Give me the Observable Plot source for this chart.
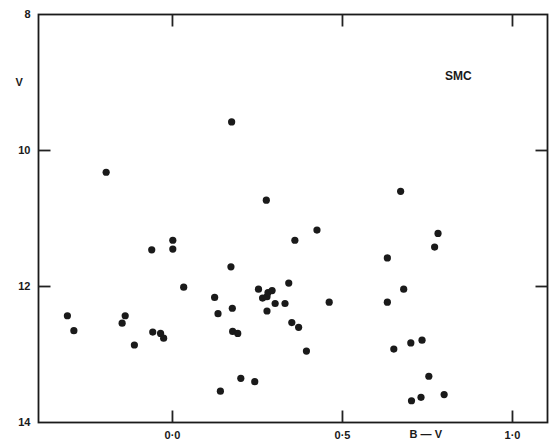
<!DOCTYPE html>
<html>
<head>
<meta charset="utf-8">
<script src="https://cdn.jsdelivr.net/npm/d3@7"></script>
<script src="https://cdn.jsdelivr.net/npm/@observablehq/plot@0.6"></script>
<style>
  html, body { margin: 0; padding: 0; background: #fff; }
  #chart { width: 560px; height: 448px; }
</style>
</head>
<body>
<div id="chart"></div>
<script>
// B-V colour index of each star
const bv = [
  0.174, -0.195, 0.276, 0.671,
  0.001, 0.001, -0.061, 0.172, 0.033, 0.124, 0.134, 0.176, 0.177, 0.192,
  0.253, 0.265, 0.278, 0.281, 0.293, 0.302, 0.278,
  -0.309, -0.290, -0.139, -0.148, -0.112, -0.058, -0.035, -0.026,
  0.201, 0.242, 0.141,
  0.425, 0.360, 0.781, 0.771, 0.632, 0.342, 0.680, 0.331, 0.461, 0.632,
  0.351, 0.371, 0.394, 0.701, 0.734, 0.651, 0.754, 0.703, 0.731, 0.799
];
// V magnitude of each star
const vmag = [
  9.58, 10.32, 10.73, 10.60,
  11.32, 11.45, 11.46, 11.71, 12.01, 12.16, 12.40, 12.32, 12.66, 12.69,
  12.04, 12.17, 12.15, 12.09, 12.06, 12.25, 12.36,
  12.43, 12.65, 12.43, 12.54, 12.86, 12.67, 12.69, 12.76,
  13.35, 13.40, 13.54,
  11.17, 11.32, 11.22, 11.42, 11.58, 11.95, 12.04, 12.25, 12.23, 12.23,
  12.53, 12.60, 12.95, 12.83, 12.79, 12.92, 13.32, 13.68, 13.63, 13.59
];
const xTicks = [0, 0.5, 1.0];
const xTickLabels = ["0·0", "0·5", "1·0"];
const yTicks = [8, 10, 12, 14];
const yInnerTicks = [10, 12];
const xDomain = [-0.394, 1.103];
const yDomain = [8, 14];
const xTitle = "B — V";
const xTitlePos = 0.745;
const yTitle = "V";
const yTitlePos = 9.0;
const panelLabel = "SMC";
const panelLabelPos = {x: 0.841, y: 8.91};

const stars = bv.map((b, i) => ({bv: b, v: vmag[i]}));

const W = 560, H = 448;
const mL = 38, mR = 13, mT = 14, mB = 26;
const fw = W - mL - mR, fh = H - mT - mB;
const tl = 12; // tick length in px
const ink = "#1a1a1a";
const font = "Liberation Sans, Arial, sans-serif";

// tick lengths converted to data units through the frame size
const tlx = tl * (xDomain[1] - xDomain[0]) / fw;
const tly = tl * (yDomain[1] - yDomain[0]) / fh;

const tickSegs = [
  ...xTicks.map(x => ({x1: x, x2: x, y1: yDomain[1], y2: yDomain[1] - tly})),
  ...xTicks.map(x => ({x1: x, x2: x, y1: yDomain[0], y2: yDomain[0] + tly})),
  ...yInnerTicks.map(y => ({x1: xDomain[0], x2: xDomain[0] + tlx, y1: y, y2: y})),
  ...yInnerTicks.map(y => ({x1: xDomain[1], x2: xDomain[1] - tlx, y1: y, y2: y}))
];

const chart = Plot.plot({
  width: W,
  height: H,
  marginLeft: mL,
  marginRight: mR,
  marginTop: mT,
  marginBottom: mB,
  style: {fontFamily: font, fontSize: "11px", fontWeight: "bold", background: "#fff"},
  x: {domain: xDomain},
  y: {domain: yDomain, reverse: true},
  marks: [
    Plot.frame({stroke: ink, strokeWidth: 1.8}),
    Plot.axisX({ticks: xTicks, tickSize: 0, tickPadding: 9, tickFormat: d => xTickLabels[xTicks.indexOf(d)], label: null, fill: ink}),
    Plot.axisY({ticks: yTicks, tickSize: 0, tickPadding: 8, tickFormat: d => String(d), label: null, fill: ink}),
    Plot.text([xTitle], {x: () => xTitlePos, frameAnchor: "bottom", dy: 15, fill: ink, fontWeight: "bold", fontSize: 11}),
    Plot.text([yTitle], {y: () => yTitlePos, frameAnchor: "left", dx: -23, fill: ink, fontWeight: "bold", fontSize: 11}),
    Plot.text([panelLabel], {x: () => panelLabelPos.x, y: () => panelLabelPos.y, fill: ink, fontWeight: "bold", fontSize: 12}),
    Plot.dot(stars, {x: "bv", y: "v", r: 3.6, fill: ink, stroke: "none"}),
    // inward ticks on all four sides, drawn last
    Plot.link(tickSegs, {x1: "x1", x2: "x2", y1: "y1", y2: "y2", stroke: "#222222", strokeWidth: 1.8})
  ]
});
document.getElementById("chart").appendChild(chart);
</script>
</body>
</html>
